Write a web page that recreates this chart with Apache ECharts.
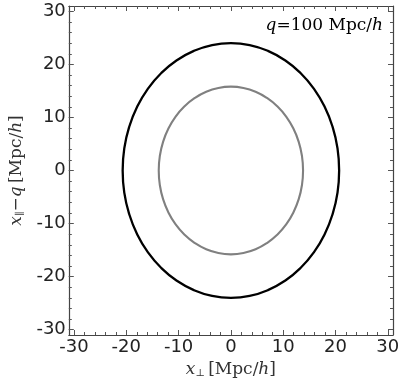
<!DOCTYPE html>
<html><head><meta charset="utf-8">
<script src="https://cdn.jsdelivr.net/npm/echarts@6/dist/echarts.min.js"></script>
<style>html,body{margin:0;padding:0;background:#fff}#c{width:404px;height:384px}</style>
</head><body><div id="c"></div>
<script>
// Axis ticks
const majorTicks = [-30, -20, -10, 0, 10, 20, 30];
const minorTicks = [-30,-28,-26,-24,-22,-20,-18,-16,-14,-12,-10,-8,-6,-4,-2,0,2,4,6,8,10,12,14,16,18,20,22,24,26,28,30];
// Outer (black) contour points
const outerX = [20.7, 20.39, 19.45, 17.93, 15.86, 13.31, 10.35, 7.08, 3.59, 0,
  -3.59, -7.08, -10.35, -13.31, -15.86, -17.93, -19.45, -20.39, -20.7,
  -20.39, -19.45, -17.93, -15.86, -13.31, -10.35, -7.08, -3.59, 0,
  3.59, 7.08, 10.35, 13.31, 15.86, 17.93, 19.45, 20.39, 20.7];
const outerY = [0, 4.17, 8.21, 12.0, 15.43, 18.38, 20.78, 22.55, 23.64, 24.0,
  23.64, 22.55, 20.78, 18.38, 15.43, 12.0, 8.21, 4.17, 0,
  -4.17, -8.21, -12.0, -15.43, -18.38, -20.78, -22.55, -23.64, -24.0,
  -23.64, -22.55, -20.78, -18.38, -15.43, -12.0, -8.21, -4.17, 0];
// Inner (gray) contour points
const innerX = [13.8, 13.59, 12.97, 11.95, 10.57, 8.87, 6.9, 4.72, 2.40, 0,
  -2.40, -4.72, -6.9, -8.87, -10.57, -11.95, -12.97, -13.59, -13.8,
  -13.59, -12.97, -11.95, -10.57, -8.87, -6.9, -4.72, -2.40, 0,
  2.40, 4.72, 6.9, 8.87, 10.57, 11.95, 12.97, 13.59, 13.8];
const innerY = [0, 2.74, 5.40, 7.9, 10.16, 12.10, 13.68, 14.85, 15.56, 15.8,
  15.56, 14.85, 13.68, 12.10, 10.16, 7.9, 5.40, 2.74, 0,
  -2.74, -5.40, -7.9, -10.16, -12.10, -13.68, -14.85, -15.56, -15.8,
  -15.56, -14.85, -13.68, -12.10, -10.16, -7.9, -5.40, -2.74, 0];

const zip = (xs, ys) => xs.map((x, i) => [x, ys[i]]);
const AX = '#444', TK = '#555';
const labelFont = {fontFamily: 'DejaVu Sans', fontSize: 18, color: '#222'};
const serifRich = {
  i: {fontFamily: 'DejaVu Serif', fontStyle: 'italic', fontSize: 17, color: '#333'},
  n: {fontFamily: 'DejaVu Serif', fontSize: 17, color: '#333'},
  s: {fontFamily: 'DejaVu Serif', fontSize: 10, color: '#333', padding: [8, 0, 0, 0]}
};
function mkAxis(pos, ticks, len, showLabel, showLine, extra) {
  return Object.assign({
    type: 'value', min: -31, max: 31, position: pos,
    axisLine: {show: showLine, onZero: false, lineStyle: {color: AX, width: 1.2}},
    axisTick: {show: true, inside: true, length: len, customValues: ticks, lineStyle: {color: TK, width: 1}},
    axisLabel: showLabel ? Object.assign({show: true, customValues: majorTicks, margin: 3}, labelFont) : {show: false},
    splitLine: {show: false}
  }, extra || {});
}
const chart = echarts.init(document.getElementById('c'), null, {renderer: 'canvas'});
chart.setOption({
  animation: false,
  grid: {left: 65, right: 11, top: 6, bottom: 49, containLabel: false},
  xAxis: [
    mkAxis('bottom', majorTicks, 5, true, true, {
      name: '{i|x}{s|⊥} {n|[Mpc/}{i|h}{n|]}', nameLocation: 'middle', nameGap: 24,
      nameTextStyle: {rich: serifRich}
    }),
    mkAxis('bottom', minorTicks, 3, false, false),
    mkAxis('top', majorTicks, 5, false, true),
    mkAxis('top', minorTicks, 3, false, false)
  ],
  yAxis: [
    mkAxis('left', majorTicks, 5, true, true, {
      name: '{i|x}{s|∥}{n|−}{i|q} {n|[Mpc/}{i|h}{n|]}', nameLocation: 'middle', nameGap: 40,
      nameTextStyle: {rich: serifRich}
    }),
    mkAxis('left', minorTicks, 3, false, false),
    mkAxis('right', majorTicks, 5, false, true),
    mkAxis('right', minorTicks, 3, false, false)
  ],
  graphic: [{
    type: 'text', right: 21, top: 17,
    style: {
      text: '{i|q}{n|=100 Mpc/}{i|h}',
      rich: serifRich
    }
  }],
  series: [
    {type: 'line', data: zip(outerX, outerY), smooth: true, symbol: 'none', xAxisIndex: 0, yAxisIndex: 0,
     lineStyle: {color: '#000', width: 2.3}},
    {type: 'line', data: zip(innerX, innerY), smooth: true, symbol: 'none', xAxisIndex: 0, yAxisIndex: 0,
     lineStyle: {color: '#808080', width: 2.1}}
  ]
});
</script></body></html>
